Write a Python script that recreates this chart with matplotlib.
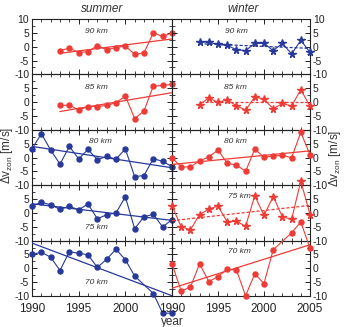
import numpy as np
import matplotlib

matplotlib.use("Agg")
import matplotlib.pyplot as plt
from matplotlib.ticker import MultipleLocator

plt.rcParams["font.family"] = ["Liberation Sans", "DejaVu Sans"]
plt.rcParams["mathtext.fontset"] = "custom"
plt.rcParams["mathtext.rm"] = "Liberation Sans"

RED = "#ee3b36"
BLUE = "#27399a"

# ---- data -----------------------------------------------------------------
ALTITUDES = ["90 km", "85 km", "80 km", "75 km", "70 km"]

YEARS_93 = list(range(1993, 2006))
YEARS_90 = list(range(1990, 2006))
YEARS_NO02 = [y for y in range(1990, 2006) if y != 2002]

# summer
S90 = [-1.4, -0.5, -2.1, -1.8, 0.4, -1.1, -0.3, 0.3, -2.8, -2.2, 5.0, 3.7, 5.0]
S85 = [-1.2, -1.1, -2.8, -1.6, -1.6, -1.2, -0.2, 2.2, -6.0, -3.2, 5.8, 6.0, 6.4]
S80 = [3.1, 8.6, 2.7, -2.4, 4.0, -0.5, 2.9, -0.8, 0.4, -0.6, 3.1, -6.9, -6.5,
       -0.4, -1.4, -3.3]
S75 = [2.4, 3.9, 2.9, 1.3, 2.4, 1.1, 3.2, -2.1, -0.7, 0.0, 5.8, -5.7, -1.4,
       -0.5, -5.1, -2.4]
S70 = [5.0, 5.8, 4.0, -0.8, 6.0, 5.4, 4.9, 0.3, 3.3, 6.9, 3.1, -2.8, -9.1,
       -16.2, -16.2]

# winter
W90 = [1.8, 1.6, 0.8, 0.5, -1.1, -1.4, 1.2, 1.2, -1.4, 1.2, -2.6, 2.3, -2.0]
W85 = [-0.9, 1.5, -0.1, 0.8, -1.3, -2.9, 1.9, 1.0, -2.4, -0.5, -1.4, 4.5, -1.5]
W80 = [-0.1, -3.4, -3.4, -1.2, 0.2, 2.7, -2.1, -2.7, -5.0, 3.0, 0.1, 0.5, 0.8,
       -0.1, 9.1, 1.0]
W75 = [2.5, -5.0, -6.1, -0.6, 1.3, 2.5, -3.3, -3.0, -4.8, 6.2, -0.9, 5.9, -1.4,
       -2.3, 11.5, -0.6]
W70 = [1.6, -8.2, -6.8, 1.6, -4.8, -3.0, -0.3, -0.6, -9.9, -2.0, -5.5, 6.7,
       12.8, 16.7, 7.3]

# trend line values at the first and last year
S_TREND = [(-2.4, 2.8), (-3.4, 3.4), (4.0, -3.7), (3.3, -2.7), (9.1, -9.9)]
W_TREND = [(1.1, -0.6), (0.0, 0.0), (-2.5, 2.4), (-2.8, 2.7), (-7.2, 8.5)]

SUMMER = [
    (YEARS_93, S90, RED, "o", "-"),
    (YEARS_93, S85, RED, "o", "-"),
    (YEARS_90, S80, BLUE, "o", "-"),
    (YEARS_90, S75, BLUE, "o", "-"),
    (YEARS_NO02, S70, BLUE, "o", "-"),
]
WINTER = [
    (YEARS_93, W90, BLUE, "*", "--"),
    (YEARS_93, W85, RED, "*", "--"),
    (YEARS_90, W80, RED, "o", "-"),
    (YEARS_90, W75, RED, "*", "--"),
    (YEARS_NO02, W70, RED, "o", "-"),
]

# where the altitude text sits (axes fraction)
S_LABEL_POS = [(0.46, 0.77), (0.46, 0.77), (0.49, 0.79), (0.46, 0.23), (0.46, 0.24)]
W_LABEL_POS = [(0.47, 0.77), (0.46, 0.77), (0.46, 0.79), (0.49, 0.79), (0.49, 0.80)]

W_PX, H_PX = 344, 327
TOP, ROW_H = 19, 55.4


def style_axis(ax, side, first_row, last_row, show_2005):
    ax.set_xlim(1990, 2005)
    ax.set_ylim(-10, 10)
    ax.patch.set_facecolor("none")
    ax.xaxis.set_major_locator(MultipleLocator(5))
    ax.xaxis.set_minor_locator(MultipleLocator(1))
    ax.yaxis.set_minor_locator(MultipleLocator(2.5))
    ax.tick_params(which="both", direction="in", top=True, bottom=True,
                   left=True, right=True, labelsize=7.5, pad=2, colors="#222222")
    ax.tick_params(which="major", length=3.5, width=0.7)
    ax.tick_params(which="minor", length=2, width=0.6)
    for sp in ax.spines.values():
        sp.set_linewidth(0.8)
        sp.set_color("#222222")

    ax.tick_params(labelleft=(side == "left"), labelright=(side == "right"))
    ax.set_yticks([-10, -5, 0, 5, 10])
    ax.set_yticklabels(["-10", "-5", "0", "5", "10" if first_row else ""])

    if last_row:
        ticks = [1990, 1995, 2000, 2005]
        ax.set_xticks(ticks)
        ax.set_xticklabels([str(t) if (t != 2005 or show_2005) else "" for t in ticks])
        ax.tick_params(axis="x", labelbottom=True, labelsize=8.5, pad=5)
    else:
        ax.tick_params(labelbottom=False)


def draw(ax, series, trend, label, pos):
    years, vals, color, marker, ls = series
    ms = 3.6 if marker == "o" else 5.5
    ax.plot(years, vals, color=color, lw=0.8, marker=marker, ms=ms,
            mec=color, mfc=color, clip_on=False, zorder=5)
    if ls == "--":
        ax.plot([years[0], years[-1]], trend, color=color, lw=0.9,
                ls=(0, (2.5, 1.5)), zorder=4)
    else:
        ax.plot([years[0], years[-1]], trend, color=color, lw=0.9, zorder=4)
    ax.text(pos[0], pos[1], label, transform=ax.transAxes, fontsize=6,
            style="italic", color="#333333", ha="center", va="center")


fig = plt.figure(figsize=(W_PX / 100, H_PX / 100), dpi=100)
fig.patch.set_facecolor("white")

for i in range(5):
    bottom = 1 - (TOP + (i + 1) * ROW_H) / H_PX
    h = ROW_H / H_PX
    axl = fig.add_axes([32 / W_PX, bottom, 140 / W_PX, h])
    axr = fig.add_axes([172 / W_PX, bottom, 138 / W_PX, h])
    style_axis(axl, "left", i == 0, i == 4, False)
    style_axis(axr, "right", i == 0, i == 4, True)
    draw(axl, SUMMER[i], S_TREND[i], ALTITUDES[i], S_LABEL_POS[i])
    draw(axr, WINTER[i], W_TREND[i], ALTITUDES[i], W_LABEL_POS[i])

fig.text(102 / W_PX, 1 - 9 / H_PX, "summer", style="italic", fontsize=8.5,
         ha="center", va="center", color="#333333")
fig.text(243 / W_PX, 1 - 9 / H_PX, "winter", style="italic", fontsize=8.5,
         ha="center", va="center", color="#333333")

ylab = r"$\Delta\mathrm{v}_{\mathrm{zon}}$ [m/s]"
fig.text(7 / W_PX, 1 - 155 / H_PX, ylab, rotation=90, fontsize=8.5,
         ha="center", va="center", color="#333333")
fig.text(335 / W_PX, 1 - 158 / H_PX, ylab, rotation=90, fontsize=8.5,
         ha="center", va="center", color="#333333")
fig.text(172 / W_PX, 1 - 316 / H_PX, "year", fontsize=8.5, ha="center",
         va="top", color="#333333")

fig.savefig("out.png", dpi=100, facecolor="white")
